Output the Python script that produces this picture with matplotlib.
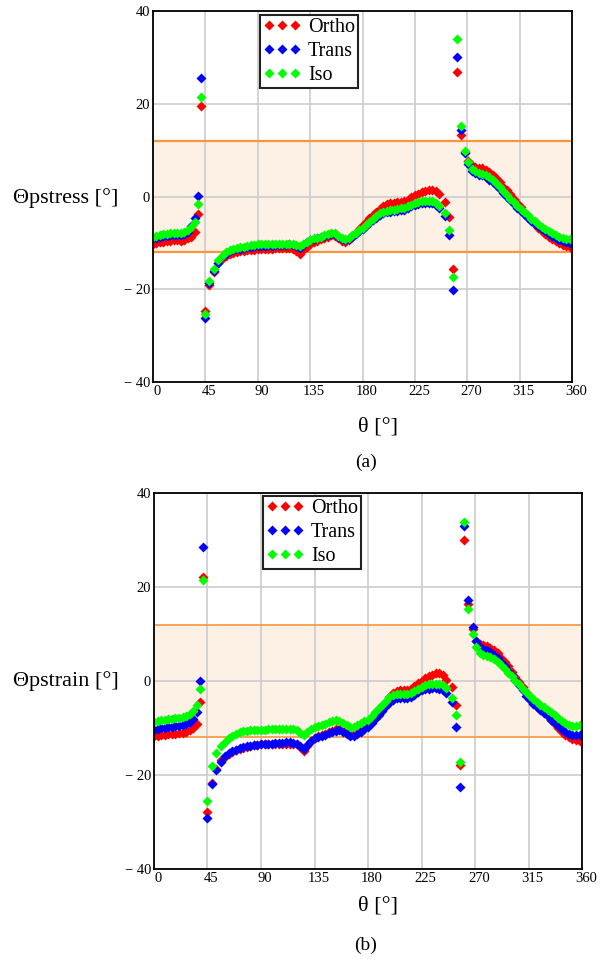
import matplotlib
matplotlib.use("Agg")
import matplotlib.pyplot as plt
import matplotlib.transforms as mtransforms

# sampling angles (deg), shared by both panels
theta = [0, 3, 6, 9, 12, 15, 18, 21, 24, 27, 30, 33, 36,
         38.5, 41.5, 45, 48.5, 52, 56,
         60, 63, 66, 69, 72, 75, 78, 81, 84, 87,
         90, 93, 96, 99, 102, 105, 108, 111, 114, 117,
         120, 123, 126, 129, 132, 135, 138, 141, 144, 147,
         150, 153, 156, 159, 162, 165, 168, 171, 174, 177,
         180, 183, 186, 189, 192, 195, 198, 201, 204, 207,
         210, 213, 216, 219, 222, 225, 228, 231, 234, 237,
         240, 243, 246,
         250.5, 254, 257.5, 261, 264.5, 268,
         271, 274, 277, 280, 283, 286, 289, 292, 295, 298,
         301, 304, 307, 310, 313, 316, 319, 322, 325, 328,
         331, 334, 337, 340, 343, 346, 349, 352, 355, 358,
         360]

# (a) principal stress angle
stress_ortho = [-10.2, -10.0, -9.8, -9.7, -9.6, -9.5, -9.4, -9.4, -9.5, -9.3, -9.0, -8.6, -7.6,
                -3.7, 19.6, -24.7, -19.0, -16.3, -14.4,
                -13.3, -12.8, -12.4, -12.1, -11.9, -11.8, -11.7, -11.6, -11.5, -11.4,
                -11.3, -11.3, -11.2, -11.2, -11.2, -11.1, -11.1, -11.1, -11.1, -11.0,
                -11.2, -11.7, -12.4, -11.6, -10.8, -10.2, -9.8, -9.5, -9.2, -8.9,
                -8.6, -8.3, -8.4, -8.9, -9.5, -9.7, -9.3, -8.6, -7.8, -6.9,
                -6.1, -5.4, -4.6, -4.0, -3.4, -2.7, -2.1, -1.6, -1.4, -1.3,
                -1.2, -1.1, -1.0, -0.6, -0.1, 0.4, 0.7, 1.0, 1.2, 1.4,
                1.5, 1.2, 0.7,
                -1.1, -4.3, -15.7, 27.0, 13.3, 9.6,
                7.8, 6.9, 6.5, 6.3, 6.1, 5.8, 5.3, 4.7, 4.0, 3.1,
                2.2, 1.4, 0.5, -0.4, -1.3, -2.2, -3.2, -4.1, -5.1, -5.9,
                -6.7, -7.4, -8.0, -8.6, -9.1, -9.6, -10.0, -10.4, -10.7, -10.9,
                -11.0]
stress_trans = [-9.0, -8.8, -8.6, -8.5, -8.4, -8.3, -8.2, -8.2, -8.2, -8.0, -7.6, -6.3, -4.6,
                0.2, 25.6, -26.2, -18.7, -16.0, -14.2,
                -12.9, -12.3, -11.8, -11.5, -11.3, -11.2, -11.0, -10.9, -10.8, -10.7,
                -10.7, -10.6, -10.6, -10.5, -10.6, -10.5, -10.5, -10.4, -10.4, -10.3,
                -10.4, -10.7, -11.0, -10.4, -9.8, -9.4, -9.1, -8.9, -8.7, -8.5,
                -8.2, -8.0, -8.1, -8.6, -9.1, -9.4, -9.1, -8.6, -8.1, -7.5,
                -7.0, -6.4, -5.7, -5.1, -4.5, -3.9, -3.5, -3.3, -3.2, -3.1,
                -3.0, -2.9, -2.8, -2.5, -2.1, -1.8, -1.6, -1.4, -1.3, -1.3,
                -1.4, -1.7, -2.4,
                -4.2, -8.3, -20.2, 30.2, 14.4, 9.5,
                7.0, 5.6, 5.1, 4.8, 4.6, 4.2, 3.7, 3.2, 2.5, 1.6,
                0.8, 0.0, -0.8, -1.6, -2.4, -3.1, -3.8, -4.5, -5.2, -5.8,
                -6.4, -7.0, -7.5, -8.0, -8.5, -8.9, -9.3, -9.6, -9.8, -9.9,
                -10.0]
stress_iso = [-8.6, -8.4, -8.2, -8.1, -8.0, -7.9, -7.8, -7.8, -7.8, -7.6, -7.2, -6.6, -5.4,
              -1.5, 21.5, -25.4, -18.1, -15.5, -13.7,
              -12.6, -12.0, -11.5, -11.2, -11.0, -10.9, -10.8, -10.6, -10.5, -10.4,
              -10.3, -10.3, -10.3, -10.2, -10.3, -10.2, -10.2, -10.2, -10.1, -10.1,
              -10.2, -10.4, -10.7, -10.2, -9.7, -9.3, -9.0, -8.8, -8.6, -8.3,
              -8.0, -7.8, -7.9, -8.4, -8.9, -9.1, -8.8, -8.3, -7.8, -7.2,
              -6.7, -6.1, -5.4, -4.8, -4.2, -3.6, -3.2, -3.0, -2.9, -2.8,
              -2.7, -2.5, -2.4, -2.1, -1.7, -1.4, -1.2, -1.0, -0.9, -0.9,
              -1.0, -1.3, -2.0,
              -3.5, -7.2, -17.3, 34.1, 15.3, 9.9,
              7.4, 6.0, 5.5, 5.2, 5.0, 4.6, 4.2, 3.6, 2.9, 2.0,
              1.2, 0.4, -0.4, -1.2, -1.9, -2.6, -3.3, -4.0, -4.7, -5.3,
              -5.9, -6.5, -7.0, -7.5, -7.9, -8.3, -8.6, -8.9, -9.1, -9.1,
              -9.2]

# (b) principal strain angle
strain_ortho = [-11.8, -11.6, -11.5, -11.4, -11.3, -11.2, -11.2, -11.1, -11.0, -10.8, -10.5, -10.1, -9.1,
                -4.5, 22.1, -27.8, -21.6, -18.8, -16.9,
                -16.2, -15.6, -15.1, -14.7, -14.5, -14.2, -14.0, -13.9, -13.7, -13.6,
                -13.5, -13.4, -13.3, -13.3, -13.3, -13.3, -13.4, -13.4, -13.3, -13.3,
                -13.4, -14.0, -14.8, -13.8, -12.8, -12.2, -11.8, -11.5, -11.2, -10.9,
                -10.6, -10.3, -10.2, -10.6, -11.1, -11.4, -11.3, -10.9, -10.4, -9.9,
                -9.3, -8.4, -7.5, -6.6, -5.6, -4.5, -3.5, -2.5, -2.1, -2.0,
                -2.0, -1.9, -1.6, -1.0, -0.4, 0.1, 0.6, 1.0, 1.3, 1.6,
                1.7, 1.3, 0.3,
                -1.3, -5.2, -17.9, 29.9, 16.3, 11.0,
                8.6, 7.9, 7.6, 7.4, 7.1, 6.6, 5.9, 5.0, 4.1, 3.1,
                2.0, 0.9, -0.2, -1.3, -2.4, -3.4, -4.3, -5.1, -5.8, -6.6,
                -7.4, -8.3, -9.2, -10.0, -10.8, -11.5, -12.0, -12.3, -12.6, -12.8,
                -12.9]
strain_trans = [-10.4, -10.2, -10.0, -9.9, -9.8, -9.7, -9.6, -9.5, -9.4, -9.2, -8.8, -8.0, -6.6,
                0.0, 28.5, -29.2, -21.9, -19.0, -17.2,
                -16.0, -15.4, -14.9, -14.6, -14.3, -14.1, -13.9, -13.8, -13.7, -13.6,
                -13.5, -13.4, -13.3, -13.3, -13.2, -13.1, -13.1, -13.0, -13.0, -13.1,
                -13.3, -13.8, -14.4, -13.6, -12.8, -12.2, -11.9, -11.7, -11.4, -11.1,
                -10.9, -10.6, -10.5, -10.8, -11.3, -11.6, -11.6, -11.2, -10.8, -10.3,
                -9.8, -9.0, -8.1, -7.2, -6.3, -5.4, -4.6, -4.0, -3.7, -3.7,
                -3.7, -3.6, -3.3, -2.9, -2.4, -2.0, -1.8, -1.6, -1.5, -1.5,
                -1.6, -1.9, -2.6,
                -4.5, -9.8, -22.6, 32.9, 17.2, 11.5,
                8.6, 7.2, 6.8, 6.5, 6.2, 5.6, 4.8, 4.0, 3.1, 2.2,
                1.2, 0.2, -0.9, -2.0, -3.1, -4.1, -4.9, -5.6, -6.2, -6.8,
                -7.5, -8.2, -8.9, -9.6, -10.3, -10.9, -11.3, -11.5, -11.5, -11.4,
                -11.3]
strain_iso = [-8.7, -8.5, -8.3, -8.2, -8.1, -8.0, -7.9, -7.8, -7.7, -7.4, -7.0, -6.4, -5.2,
              -1.6, 21.4, -25.6, -18.1, -15.4, -13.8,
              -12.9, -12.2, -11.7, -11.2, -10.9, -10.7, -10.6, -10.5, -10.5, -10.4,
              -10.4, -10.4, -10.3, -10.3, -10.3, -10.2, -10.2, -10.2, -10.2, -10.3,
              -10.5, -11.0, -11.5, -10.9, -10.2, -9.8, -9.5, -9.3, -9.1, -8.8,
              -8.6, -8.4, -8.5, -8.9, -9.4, -9.7, -9.7, -9.3, -9.0, -8.6,
              -8.2, -7.5, -6.6, -5.8, -5.0, -4.2, -3.5, -3.0, -2.8, -2.7,
              -2.7, -2.7, -2.5, -2.1, -1.6, -1.2, -0.9, -0.7, -0.6, -0.6,
              -0.7, -0.9, -1.4,
              -3.7, -7.3, -17.2, 33.8, 15.4, 10.1,
              7.2, 6.0, 5.6, 5.4, 5.1, 4.6, 4.0, 3.4, 2.6, 1.8,
              1.0, 0.1, -0.7, -1.6, -2.4, -3.2, -3.9, -4.5, -5.1, -5.6,
              -6.1, -6.7, -7.3, -7.9, -8.5, -9.0, -9.4, -9.6, -9.5, -9.3,
              -9.3]

x_ticks = [0, 45, 90, 135, 180, 225, 270, 315, 360]
y_ticks = [-40, -20, 0, 20, 40]
y_tick_labels = ["\u2212 40", "\u2212 20", "0", "20", "40"]
band_limit = 12
series_names = ["Ortho", "Trans", "Iso"]
series_colors = ["#ff0000", "#0000ff", "#00ff00"]

SERIF = "Liberation Serif"


def draw_panel(ax, series, legend_anchor, orange_lw):
    ax.axhspan(-band_limit, band_limit, color="#fdf0e4", lw=0, zorder=0.2)
    ax.axhline(band_limit, color="#f9953e", lw=orange_lw, zorder=1)
    ax.axhline(-band_limit, color="#f9953e", lw=orange_lw, zorder=1)

    handles = []
    for values, name, color in zip(series, series_names, series_colors):
        (h,) = ax.plot(theta, values, ls="none", marker="D", ms=4.6,
                       mec="none", mfc=color, label=name, zorder=2)
        handles.append(h)

    ax.set_xlim(0, 360)
    ax.set_ylim(-40, 40)
    ax.set_xticks(x_ticks)
    ax.set_xticklabels([str(t) for t in x_ticks], fontfamily=SERIF, fontsize=10.5)
    ax.set_yticks(y_ticks)
    ax.set_yticklabels(y_tick_labels, fontfamily=SERIF, fontsize=10.5)
    ax.tick_params(length=0, pad=2)
    shift = mtransforms.ScaledTranslation(4 / 100, 0, ax.figure.dpi_scale_trans)
    for lab in ax.get_xticklabels():
        lab.set_transform(lab.get_transform() + shift)

    ax.set_axisbelow(True)
    ax.grid(True, color="#cccccc", lw=1.2)
    for spine in ax.spines.values():
        spine.set_color("black")
        spine.set_linewidth(1.3)

    leg = ax.legend(handles=handles, loc="upper left", bbox_to_anchor=legend_anchor,
                    borderaxespad=0, numpoints=3, handlelength=1.87, handletextpad=0.36,
                    borderpad=0.15, labelspacing=0.25, fancybox=False, framealpha=1,
                    edgecolor="#222222", prop={"family": SERIF, "size": 14.5})
    leg.get_frame().set_linewidth(1.5)


fig = plt.figure(figsize=(6.05, 9.71), dpi=100)
ax_a = fig.add_axes([153 / 605, 1 - 382 / 971, 419 / 605, 370.5 / 971])
ax_b = fig.add_axes([154 / 605, 1 - 869 / 971, 428 / 605, 376 / 971])

draw_panel(ax_a, [stress_ortho, stress_trans, stress_iso], (0.2554, 0.9906), 1.6)
draw_panel(ax_b, [strain_ortho, strain_trans, strain_iso], (0.2547, 0.992), 1.2)

fig.text(13 / 605, 1 - 198 / 971, "\u0398pstress [\u00b0]", fontfamily=SERIF,
         fontsize=16, ha="left", va="center")
fig.text(13 / 605, 1 - 681 / 971, "\u0398pstrain [\u00b0]", fontfamily=SERIF,
         fontsize=16, ha="left", va="center")
fig.text(378 / 605, 1 - 427 / 971, "\u03b8 [\u00b0]", fontfamily=SERIF,
         fontsize=16, ha="center", va="center")
fig.text(378 / 605, 1 - 906 / 971, "\u03b8 [\u00b0]", fontfamily=SERIF,
         fontsize=16, ha="center", va="center")
fig.text(366 / 605, 1 - 462 / 971, "(a)", fontfamily=SERIF,
         fontsize=14, ha="center", va="center")
fig.text(366 / 605, 1 - 945 / 971, "(b)", fontfamily=SERIF,
         fontsize=14, ha="center", va="center")

fig.savefig("out.png", dpi=100)
